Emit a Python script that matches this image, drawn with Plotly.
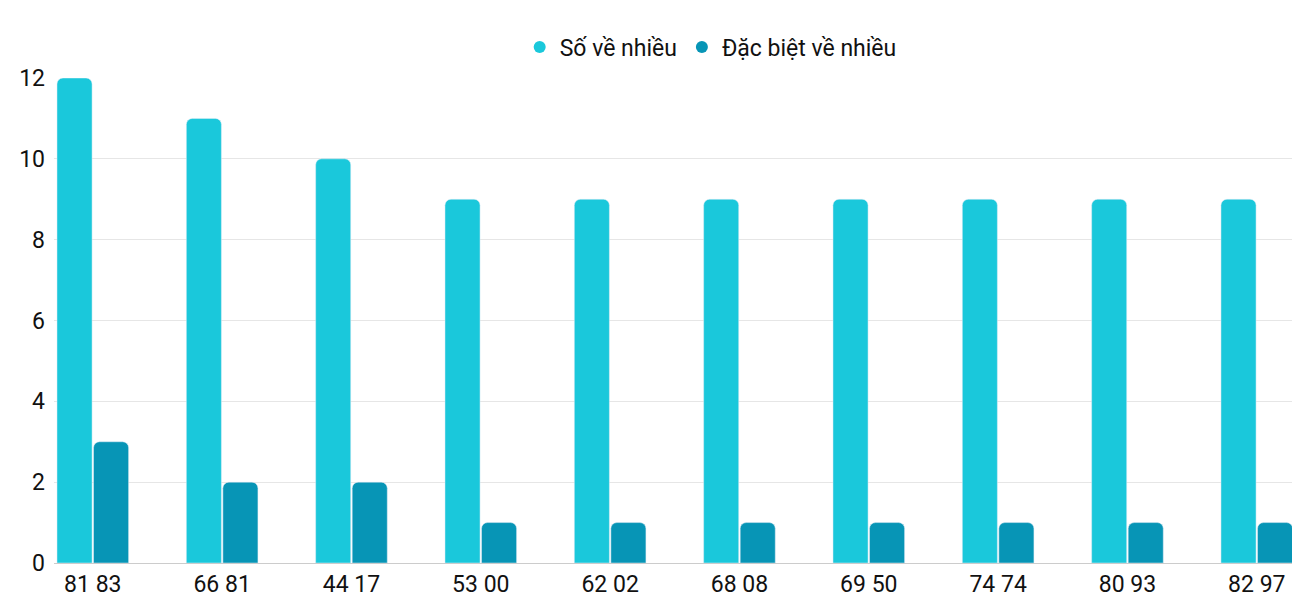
import plotly.graph_objects as go

categories = ["81 83", "66 81", "44 17", "53 00", "62 02", "68 08", "69 50", "74 74", "80 93", "82 97"]
so_ve_nhieu = [12, 11, 10, 9, 9, 9, 9, 9, 9, 9]
dac_biet = [3, 2, 2, 1, 1, 1, 1, 1, 1, 1]
names = ["Số về nhiều", "Đặc biệt về nhiều"]
colors = ["#1ac8db", "#0795b6"]

fig = go.Figure()
for vals, nm, c in zip([so_ve_nhieu, dac_biet], names, colors):
    fig.add_bar(x=categories, y=vals, name=nm, marker_color=c, showlegend=False)
for nm, c in zip(names, colors):
    fig.add_scatter(x=[None], y=[None], mode="markers", name=nm,
                    marker=dict(color=c, size=26, symbol="circle"))

fig.update_layout(
    width=1285, height=585,
    margin=dict(l=46, r=0, t=70, b=30, autoexpand=False),
    plot_bgcolor="white", paper_bgcolor="white",
    font=dict(family="Roboto", size=23, color="#111"),
    barmode="group", bargap=0.435, bargroupgap=0.04, barcornerradius=6,
    legend=dict(orientation="h", x=0.53, xanchor="center", yref="container", y=0.97, yanchor="top",
                font=dict(size=23), itemsizing="constant"),
    xaxis=dict(type="category", range=[-0.3, 9.28], showgrid=False, ticks="",
               showline=True, linecolor="#ccc"),
    yaxis=dict(range=[0, 12], dtick=2, gridcolor="#e6e6e6", zeroline=False,
               ticks="", ticklabelstandoff=8),
)
fig.write_html("out.html")
